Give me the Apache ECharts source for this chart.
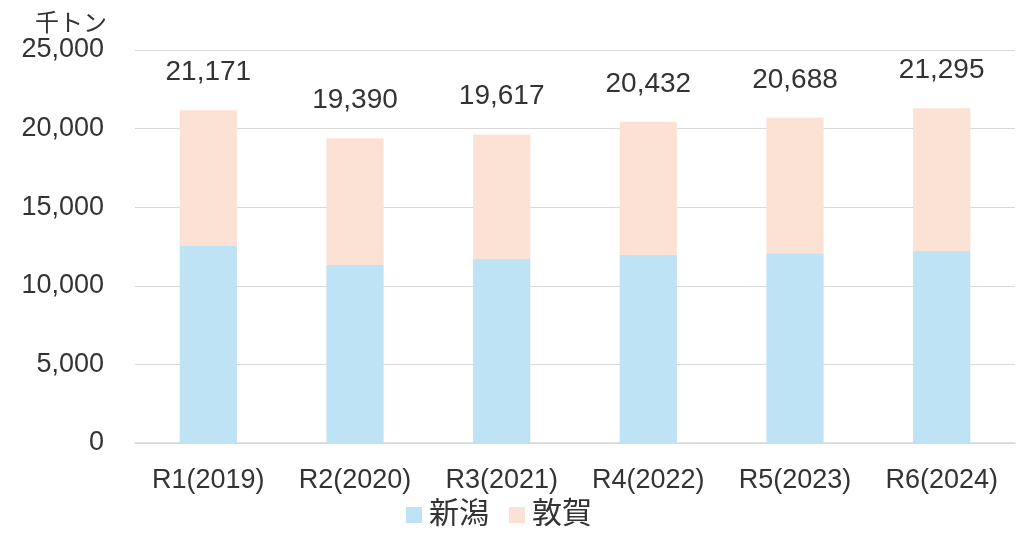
<!DOCTYPE html>
<html><head><meta charset="utf-8">
<script src="https://cdn.jsdelivr.net/npm/echarts@6/dist/echarts.min.js"></script>
<style>html,body{margin:0;padding:0;background:#fff}#c{width:1025px;height:533px}</style>
</head><body><div id="c"></div>
<script>
var categories = ['R1(2019)','R2(2020)','R3(2021)','R4(2022)','R5(2023)','R6(2024)'];
var niigata = [12530, 11320, 11700, 11960, 12070, 12210];
var tsuruga = [8641, 8070, 7917, 8472, 8618, 9085];
var totals = niigata.map(function(v,i){return v + tsuruga[i];});
var FONT = '"Liberation Sans", "Noto Sans CJK JP", sans-serif';
var TXT = '#333333';
var chart = echarts.init(document.getElementById('c'), null, {renderer:'canvas'});
chart.setOption({
  animation:false,
  textStyle:{fontFamily:FONT},
  grid:{left:135,right:10,top:50,bottom:90,containLabel:false},
  legend:{bottom:-2,left:401,itemWidth:16,itemHeight:16,itemGap:20,icon:'rect',
    textStyle:{fontSize:30,color:TXT,fontFamily:FONT,padding:[0,0,0,2]},data:['新潟','敦賀']},
  xAxis:{type:'category',data:categories,
    axisLine:{lineStyle:{color:'#d9d9d9',width:1.5}},axisTick:{show:false},
    axisLabel:{fontSize:27,color:TXT,margin:24,fontFamily:FONT}},
  yAxis:{type:'value',min:0,max:25000,interval:5000,
    name:'千トン',nameLocation:'end',nameGap:12,
    nameTextStyle:{fontSize:24,color:TXT,align:'right',padding:[0,28,0,0],fontFamily:FONT},
    axisLine:{show:false},axisTick:{show:false},
    splitLine:{lineStyle:{color:'#d9d9d9',width:1.2}},
    axisLabel:{fontSize:27,color:TXT,margin:31,fontFamily:FONT,
      formatter:function(v){return v.toLocaleString('en-US');}}},
  series:[
    {name:'新潟',type:'bar',stack:'t',data:niigata,barWidth:'39%',
      itemStyle:{color:'#bde3f5'}},
    {name:'敦賀',type:'bar',stack:'t',data:tsuruga,barWidth:'39%',
      itemStyle:{color:'#fce2d5'},
      label:{show:true,position:'top',distance:24,fontSize:28,color:TXT,fontFamily:FONT,
        formatter:function(p){return totals[p.dataIndex].toLocaleString('en-US');}}}
  ]
});
</script></body></html>
